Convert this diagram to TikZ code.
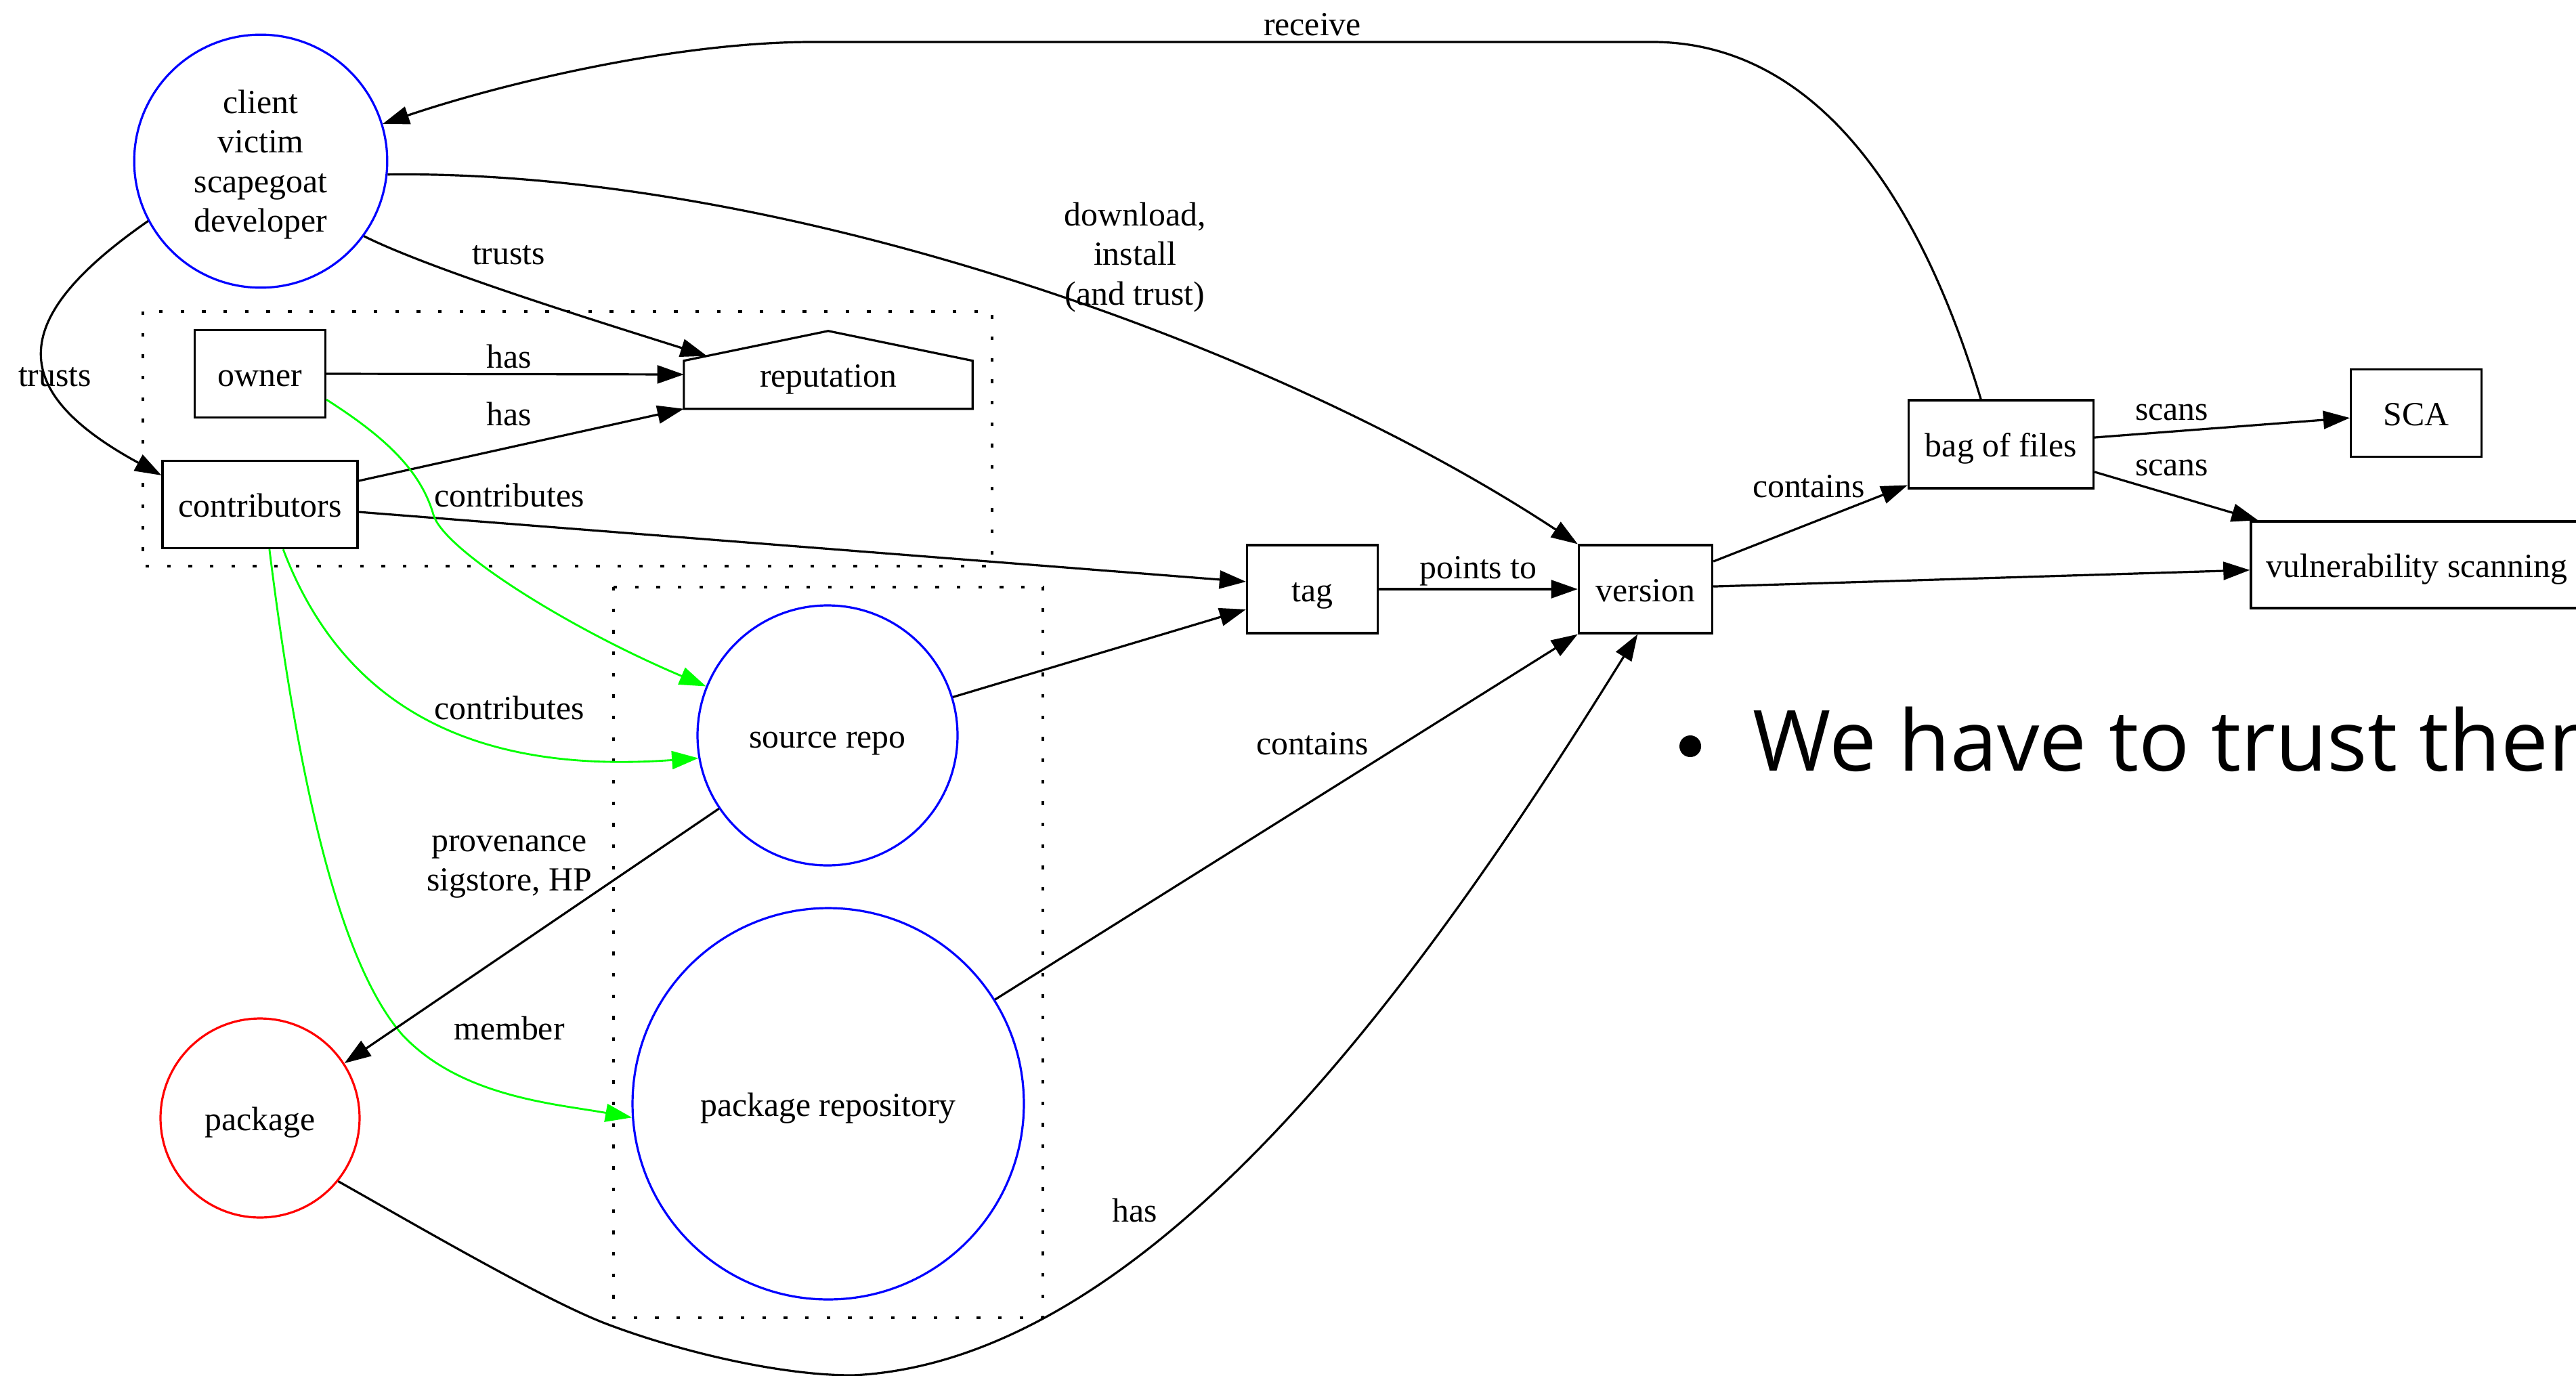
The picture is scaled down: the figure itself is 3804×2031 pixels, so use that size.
\documentclass[tikz,border=0pt]{standalone}
\usepackage{fontspec}
\setmainfont{Liberation Serif}
\newfontfamily\slidefont{Open Sans}
\usetikzlibrary{arrows.meta,calc}

\begin{document}
\begin{tikzpicture}[x=0.281pt,y=-0.281pt,
  every node/.style={font=\fontsize{14}{16.4}\selectfont},
  basetext/.style={text height=10.6pt, text depth=0.4pt},
  box/.style={draw=black, line width=0.9pt, rectangle, inner sep=0pt, minimum height=36.3pt, basetext},
  roundnode/.style={draw=blue, circle, line width=0.9pt, inner sep=0pt, align=center},
  lbl/.style={inner sep=0pt, align=center},
  conn/.style={draw=black, line width=0.9pt, -{Triangle[length=11pt,width=7.5pt]}},
  gconn/.style={draw=green, line width=0.8pt, -{Triangle[length=11pt,width=7.5pt]}},
  cluster/.style={draw=black, line width=1pt, dash pattern=on 1.5pt off 7.4pt},
]
\path[use as bounding box] (0,0) rectangle (3804,2031);
\clip (0,0) rectangle (3804,2031);

% dotted clusters
\draw[cluster] (211,460) rectangle (1465,836);
\draw[cluster] (906,867) rectangle (1540,1946);

% nodes
\node[roundnode, minimum size=105pt] (client) at (385,238)
  {\raisebox{-1.5pt}[\height][\depth]{\begin{tabular}{@{}c@{}}client\\victim\\scapegoat\\developer\end{tabular}}};
\node[box, minimum width=54.2pt] (owner) at (384,552) {owner};
\node[box, minimum width=80.9pt] (contrib) at (384,745) {contributors};
\node[inner sep=0pt, minimum width=119.4pt, minimum height=28.1pt, basetext] (rep) at (1223,553) {reputation};
\coordinate (hSW) at (rep.south west);
\coordinate (hSE) at (rep.south east);
\coordinate (hNW) at ($(rep.south west)+(0,-71)$);
\coordinate (hNE) at ($(rep.south east)+(0,-71)$);
\coordinate (hTop) at ($(rep.south)+(0,-115)$);
\draw[line width=0.9pt] (hSW) -- (hNW) -- (hTop) -- (hNE) -- (hSE) -- cycle;
\coordinate (roof) at ($(hNW)!0.16!(hTop)$);

\node[box, minimum width=54.2pt, minimum height=36.5pt] (tag) at (1938,870) {tag};
\node[box, minimum width=55.4pt, minimum height=36.5pt] (version) at (2430,870) {version};
\node[box, minimum width=76.7pt, minimum height=36.5pt] (bag) at (2955,656) {bag of files};
\node[box, minimum width=54.2pt] (sca) at (3568,610) {SCA};
\node[box, minimum width=137.7pt, minimum height=36pt] (vuln) at (3569,834) {vulnerability scanning};

\node[roundnode, basetext, minimum size=107.9pt] (srcrepo) at (1222,1086) {source repo};
\node[roundnode, basetext, minimum size=162.4pt] (pkgrepo) at (1223,1630) {package repository};
\node[roundnode, basetext, draw=red, minimum size=82.6pt] (pkg) at (384,1651) {package};

% connectors
\draw[conn] ([xshift=-8.4pt]bag.north) .. controls (2805,191) and (2620,62) .. (2440,62)
  -- (1200,62) .. controls (1000,62) and (745,122) .. (client.17);
\draw[conn] (client.-6) .. controls (1150,250) and (1880,507) .. (version.north west);
\draw[conn] (client.-36) .. controls (640,400) and (900,480) .. (roof);
\draw[conn] (client.208) .. controls (15,468) and (5,575) .. ([yshift=-6.5pt]contrib.north west);
\draw[conn] (owner.east) -- (rep.west);
\draw[conn] ([yshift=9.8pt]contrib.east) -- (rep.south west);
\draw[conn] ([yshift=-3.1pt]contrib.east) -- ([yshift=3.1pt]tag.west);
\draw[gconn] ([yshift=-10.7pt]owner.east) .. controls (560,640) and (620,690) .. (640,760)
  .. controls (655,812) and (840,928) .. (srcrepo.158);
\draw[gconn] ([xshift=9.6pt]contrib.south) .. controls (520,1080) and (750,1140) .. (srcrepo.190);
\draw[gconn] ([xshift=3.9pt]contrib.south) .. controls (440,1150) and (500,1420) .. (594,1528)
  .. controls (680,1620) and (820,1630) .. (pkgrepo.184);
\draw[conn] (srcrepo.214) -- (pkg.33);
\draw[conn] (srcrepo.17) -- ([yshift=-8.4pt]tag.west);
\draw[conn] (pkgrepo.32) -- (version.south west);
\draw[conn] (pkg.-39) .. controls (600,1801) and (800,1918) .. (893,1954)
  .. controls (1000,1995) and (1150,2031) .. (1259,2031)
  .. controls (1700,2010) and (2100,1450) .. (version.-100);
\draw[conn] (tag.east) -- (version.west);
\draw[conn] ([yshift=11.5pt]version.east) -- ([yshift=1.7pt]bag.south west);
\draw[conn] ([yshift=1.1pt]version.east) -- ([yshift=-2.2pt]vuln.west);
\draw[conn] ([yshift=2.8pt]bag.east) -- ([yshift=-2pt]sca.west);
\draw[conn] ([yshift=-11.5pt]bag.east) -- ([xshift=3.4pt]vuln.north west);

% connector labels
\node[lbl] (lreceive) at (1938,36) {receive};
\node[lbl] (ldownload) at (1676,380) {download,\\install\\(and trust)};
\node[lbl] (ltrustsrep) at (751,377) {trusts};
\node[lbl] (ltrustscon) at (81,557) {trusts};
\node[lbl] (lhasowner) at (752,526) {has};
\node[lbl] (lhascon) at (752,611) {has};
\node[lbl] (lcontag) at (752,731) {contributes};
\node[lbl] (lconsrc) at (752,1045) {contributes};
\node[lbl] (lprov) at (752,1280) {provenance\\sigstore, HP};
\node[lbl] (lmember) at (752,1518) {member};
\node[lbl] (lcontver) at (1938,1098) {contains};
\node[lbl] (lhaspkg) at (1676,1787) {has};
\node[lbl] (lpoints) at (2183,843) {points to};
\node[lbl] (lcontbag) at (2671,718) {contains};
\node[lbl] (lscansca) at (3207,609) {scans};
\node[lbl] (lscanvuln) at (3207,691) {scans};

% slide bullet
\node[circle, fill=black, inner sep=0pt, minimum size=9pt] (dot) at (2496,1102) {};
\node[anchor=base west, inner sep=0pt, font=\slidefont\fontsize{35}{42}\selectfont] (point) at (2588,1138) {We have to trust them};
\end{tikzpicture}
\end{document}
